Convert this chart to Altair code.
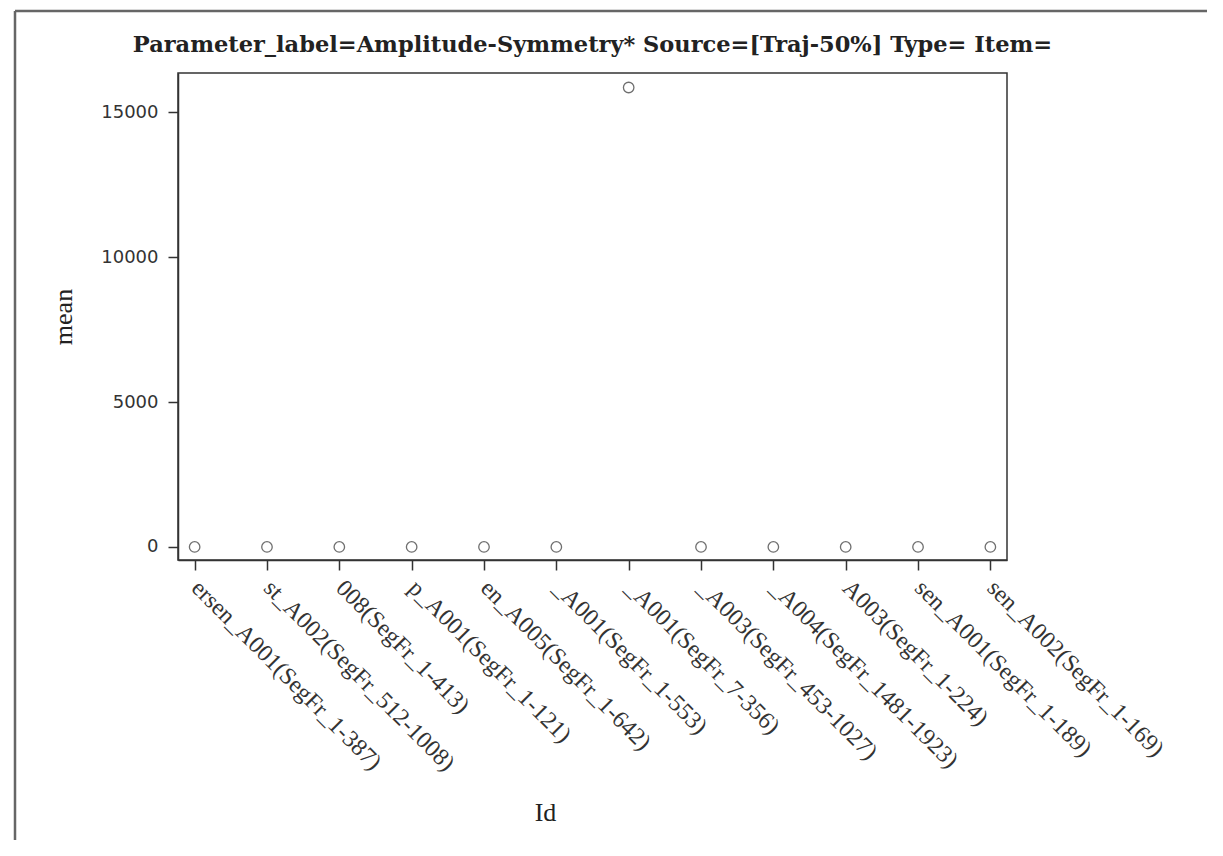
import altair as alt
import pandas as pd

ids = [
    "ersen_A001(SegFr_1-387)",
    "st_A002(SegFr_512-1008)",
    "008(SegFr_1-413)",
    "p_A001(SegFr_1-121)",
    "en_A005(SegFr_1-642)",
    "_A001(SegFr_1-553)",
    "_A001(SegFr_7-356)",
    "_A003(SegFr_453-1027)",
    "_A004(SegFr_1481-1923)",
    "A003(SegFr_1-224)",
    "sen_A001(SegFr_1-189)",
    "sen_A002(SegFr_1-169)",
]
means = [0, 0, 0, 0, 0, 0, 15850, 0, 0, 0, 0, 0]
y_ticks = [0, 5000, 10000, 15000]

df = pd.DataFrame({"Id": ids, "mean": means})

points = alt.Chart(df).mark_point(
    shape="circle", filled=False, size=110, strokeWidth=1.3, color="#333333"
).encode(
    x=alt.X("Id:N", sort=ids,
            scale=alt.Scale(type="point", padding=0.23),
            axis=alt.Axis(title="Id", labelAngle=45, labelAlign="left",
                          labelBaseline="middle", labelFont="Liberation Serif",
                          labelFontSize=24, labelColor="#333333", labelPadding=14,
                          labelLimit=400, tickSize=10, tickColor="#333333",
                          domainColor="#333333", titleFont="Liberation Serif",
                          titleFontSize=26, titleFontWeight="normal",
                          titleColor="#222222", titleX=367, titleY=252,
                          titleBaseline="middle", titleAlign="center")),
    y=alt.Y("mean:Q",
            scale=alt.Scale(domain=[-450, 16350], nice=False, zero=False),
            axis=alt.Axis(title="mean", values=y_ticks, format="d",
                          labelFont="DejaVu Sans",
                          labelFontSize=18, labelColor="#333333", labelPadding=10,
                          tickSize=10, tickColor="#333333", domainColor="#333333",
                          grid=False, titleFont="Liberation Serif", titleFontSize=26,
                          titleFontWeight="normal", titleColor="#222222",
                          titlePadding=24)),
)

frame_src = alt.Data(values=[{"k": 1}])
frame_left = alt.Chart(frame_src).mark_rule(color="#666666", strokeWidth=2.5).encode(
    x=alt.value(-163), y=alt.value(-62), y2=alt.value(800)
)
frame_top = alt.Chart(frame_src).mark_rule(color="#666666", strokeWidth=2.5).encode(
    x=alt.value(-163), x2=alt.value(1060), y=alt.value(-62)
)

chart = alt.layer(points, frame_left, frame_top).properties(
    width=829,
    height=487,
    padding={"left": 170, "top": 65, "right": 200, "bottom": 280},
    autosize=alt.AutoSizeParams(type="none"),
    title=alt.TitleParams(
        "Parameter_label=Amplitude-Symmetry* Source=[Traj-50%] Type=  Item=",
        font="DejaVu Serif", fontSize=22.5, fontWeight="bold", color="#222222",
        anchor="middle", offset=-47),
).configure_view(
    stroke="#333333", strokeWidth=1.5, clip=False
).configure_axis(
    domainWidth=1.5, tickWidth=1.5
)

chart.save("out.html", embed_options={"renderer": "svg", "actions": False})
